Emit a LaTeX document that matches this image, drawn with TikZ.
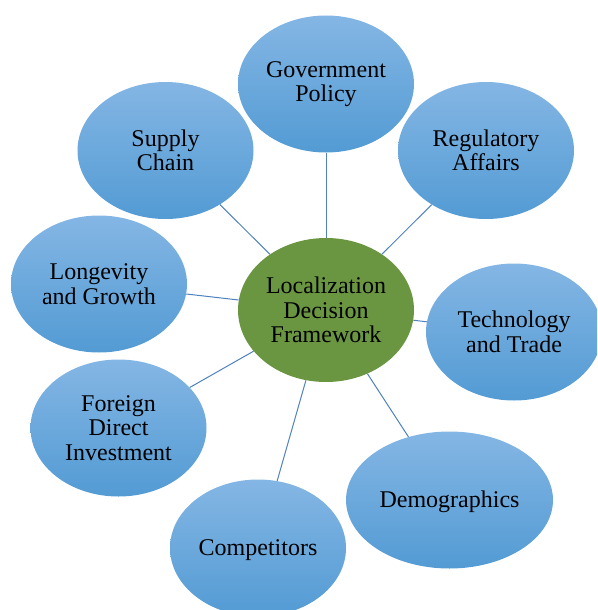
\documentclass[tikz,border=0pt]{standalone}
\usepackage{fontspec}
\setmainfont{Liberation Serif}
\usetikzlibrary{shapes.geometric}
\definecolor{bluetop}{RGB}{132,182,228}
\definecolor{bluemid}{RGB}{106,173,225}
\definecolor{bluebot}{RGB}{83,155,212}
\definecolor{hubgreen}{RGB}{106,150,66}
\definecolor{linkblue}{RGB}{79,129,189}
\begin{document}
\begin{tikzpicture}[x=1pt,y=-1pt,
  bubble/.style={ellipse, minimum width=176pt, minimum height=137pt, inner sep=0pt,
    top color=bluetop, middle color=bluemid, bottom color=bluebot,
    align=center, text=black, font=\fontsize{24}{24.5}\selectfont},
  lowtext/.style={text height=21pt},
  hub/.style={ellipse, minimum width=176pt, minimum height=144pt, inner sep=0pt,
    fill=hubgreen, align=center, text=black, font=\fontsize{24}{24.5}\selectfont},
  link/.style={draw=linkblue, line width=1pt}]
\useasboundingbox (0,0) rectangle (597,610);
\clip (0,0) rectangle (597,610);
\node[hub] (hub) at (326,310) {Localization\\Decision\\Framework};
\node[bubble] (gov) at (326,84) {Government\\Policy};
\node[bubble] (reg) at (486,150.5) {Regulatory\\Affairs};
\node[bubble] (tech) at (514,332) {Technology\\and Trade};
\node[bubble, lowtext, minimum width=207pt] (demo) at (449.5,500) {Demographics};
\node[bubble, lowtext] (comp) at (258,548) {Competitors};
\node[bubble] (fdi) at (118.5,428) {Foreign\\Direct\\Investment};
\node[bubble] (long) at (99,284) {Longevity\\and Growth};
\node[bubble] (sup) at (165.5,150.5) {Supply\\Chain};
\foreach \n in {gov,reg,tech,demo,comp,fdi,long,sup}
  \draw[link] (hub) -- (\n);
\end{tikzpicture}
\end{document}
